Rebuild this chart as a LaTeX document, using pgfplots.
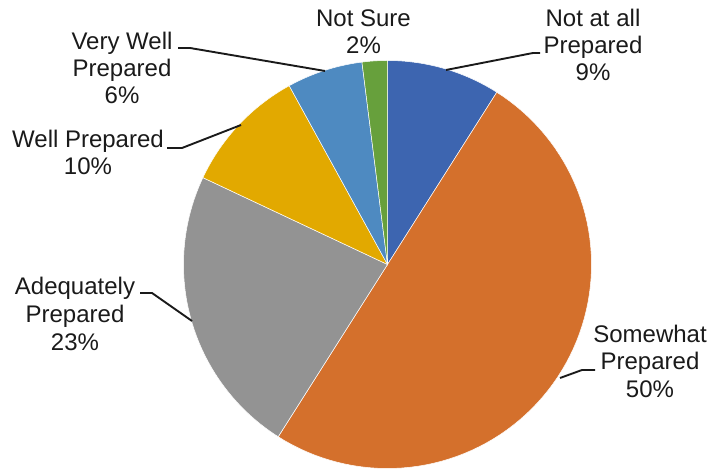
\documentclass[border=0pt]{standalone}
\usepackage{pgfplots}
\pgfplotsset{compat=1.18}
\usepackage{fontspec}
\setmainfont{Liberation Sans}
\definecolor{cA}{HTML}{3D65B0}
\definecolor{cB}{HTML}{D4702C}
\definecolor{cC}{HTML}{939393}
\definecolor{cD}{HTML}{E2A900}
\definecolor{cE}{HTML}{4E8AC1}
\definecolor{cF}{HTML}{67A03C}
\definecolor{txt}{HTML}{1A1A1A}
% pie centre and radius (in picture units, 1 unit = 1bp)
\def\cx{387.5}\def\cy{205.5}\def\rr{204}
% slice: #1 start (percent, clockwise from top), #2 value (percent), #3 colour
\newcommand{\slice}[3]{%
  \addplot[fill=#3, draw=white, line width=0.5pt, domain=0:1, samples=80, variable=\t]
    ({\cx+\rr*sin(3.6*(#1+#2*\t))}, {\cy+\rr*cos(3.6*(#1+#2*\t))})
    -- (axis cs:\cx,\cy) -- cycle;
}
\newcommand{\lbl}[3]{\node[anchor=base, inner sep=0pt, text=txt, font=\fontsize{24bp}{28bp}\selectfont] at (axis cs:#1,{470-#2}) {#3};}
\begin{document}
\begin{tikzpicture}
\begin{axis}[width=710bp, height=470bp, scale only axis,
  xmin=0, xmax=710, ymin=0, ymax=470, hide axis, clip=false]
\path (rel axis cs:0,0) rectangle (rel axis cs:1,1);
% values: Not at all 9, Somewhat 50, Adequately 23, Well 10, Very Well 6, Not Sure 2
\slice{0}{9}{cA}
\slice{9}{50}{cB}
\slice{59}{23}{cC}
\slice{82}{10}{cD}
\slice{92}{6}{cE}
\slice{98}{2}{cF}
% leader lines
\addplot[txt, line width=1.9pt] coordinates {(540,417) (533,417) (446,400)};
\addplot[txt, line width=1.9pt] coordinates {(178,422) (190,422) (325,399)};
\addplot[txt, line width=1.9pt] coordinates {(167,322) (182,322) (241,345)};
\addplot[txt, line width=1.9pt] coordinates {(140,177) (152,177) (192,149)};
\addplot[txt, line width=1.9pt] coordinates {(595,100) (582,100) (560,92)};
% labels
\lbl{363.5}{27}{Not Sure}
\lbl{363.5}{54}{2\%}
\lbl{593}{27}{Not at all}
\lbl{593}{54}{Prepared}
\lbl{593}{81}{9\%}
\lbl{122}{50}{Very Well}
\lbl{122}{77}{Prepared}
\lbl{122}{104}{6\%}
\lbl{88}{148}{Well Prepared}
\lbl{88}{175}{10\%}
\lbl{75}{295}{Adequately}
\lbl{75}{323}{Prepared}
\lbl{75}{351}{23\%}
\lbl{650}{343}{Somewhat}
\lbl{650}{370}{Prepared}
\lbl{650}{398}{50\%}
\end{axis}
\end{tikzpicture}
\end{document}
